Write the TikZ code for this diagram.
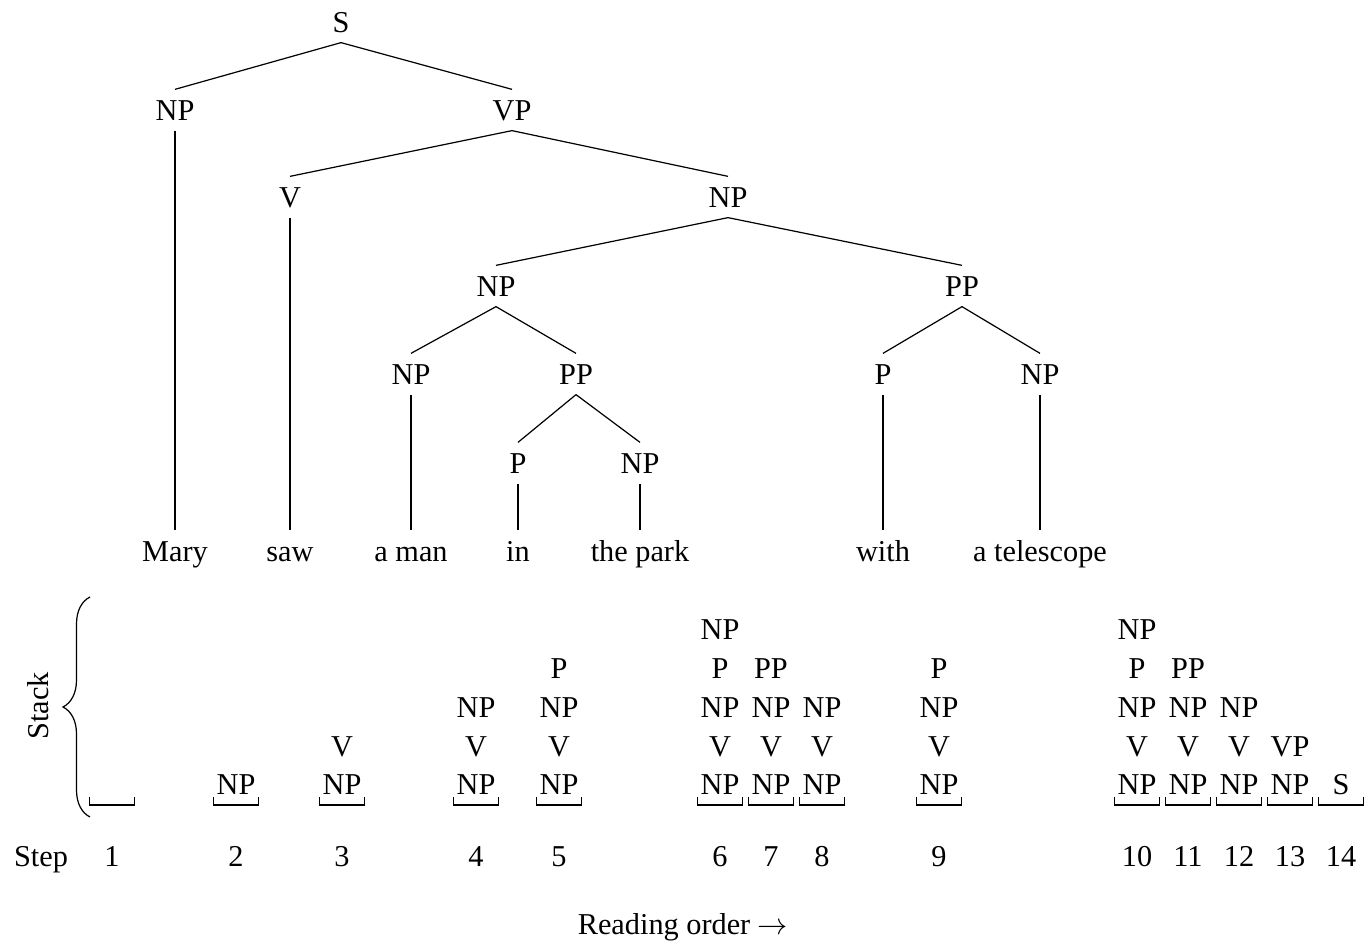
\documentclass[tikz,border=0pt]{standalone}
\usepackage{fontspec}
\setmainfont{Liberation Serif}
\usetikzlibrary{decorations.pathreplacing}
\begin{document}
\begin{tikzpicture}[x=0.33pt,y=-0.33pt,
  every node/.style={font=\fontsize{10}{12}\selectfont},
  tnode/.style={inner sep=3.3pt,text height=6.62pt,text depth=0pt},
  edge/.style={line width=0.4pt},
  slabel/.style={anchor=base,inner sep=0pt},
  bracket/.style={line width=0.4pt}]
\useasboundingbox (0,0) rectangle (1367,948);

% constituency tree
\node[tnode] (S)    at (341,22)  {S};
\node[tnode] (NP1)  at (175,110) {NP};
\node[tnode] (VP)   at (512,110) {VP};
\node[tnode] (V)    at (290,197) {V};
\node[tnode] (NP2)  at (728,197) {NP};
\node[tnode] (NP3)  at (496,286) {NP};
\node[tnode] (PP1)  at (962,286) {PP};
\node[tnode] (NP4)  at (411,374) {NP};
\node[tnode] (PP2)  at (576,374) {PP};
\node[tnode] (P1)   at (883,374) {P};
\node[tnode] (NP5)  at (1040,374) {NP};
\node[tnode] (P2)   at (518,463) {P};
\node[tnode] (NP6)  at (640,463) {NP};
% words
\node[tnode] (wMary) at (175,551)  {Mary};
\node[tnode] (wsaw)  at (290,551)  {saw};
\node[tnode] (wman)  at (411,551)  {a man};
\node[tnode] (win)   at (518,551)  {in};
\node[tnode] (wpark) at (640,551)  {the park};
\node[tnode] (wwith) at (883,551)  {with};
\node[tnode] (wtel)  at (1040,551) {a telescope};

\foreach \a/\b in {S/NP1,S/VP,VP/V,VP/NP2,NP2/NP3,NP2/PP1,NP3/NP4,NP3/PP2,
  PP2/P2,PP2/NP6,PP1/P1,PP1/NP5,NP1/wMary,V/wsaw,NP4/wman,P2/win,NP6/wpark,
  P1/wwith,NP5/wtel}
  \draw[edge] (\a.south) -- (\b.north);

% stack snapshots: column x / contents from bottom to top
\foreach \i/\x/\items in {1/112/{},2/236/{NP},3/342/{NP,V},4/476/{NP,V,NP},
  5/559/{NP,V,NP,P},6/720/{NP,V,NP,P,NP},7/771/{NP,V,NP,PP},8/822/{NP,V,NP},
  9/939/{NP,V,NP,P},10/1137/{NP,V,NP,P,NP},11/1188/{NP,V,NP,PP},
  12/1239/{NP,V,NP},13/1290/{NP,VP},14/1341/{S}}{
  \coordinate (col\i) at (\x,805);
  \draw[bracket] ([xshift=-22.5*0.33pt,yshift=8*0.33pt]col\i) -- ([xshift=-22.5*0.33pt]col\i)
    -- ([xshift=22.5*0.33pt]col\i) -- ([xshift=22.5*0.33pt,yshift=8*0.33pt]col\i);
  \foreach \s [count=\r] in \items {
    \pgfmathsetmacro{\yb}{795-38.75*(\r-1)}
    \node[slabel] (s\i r\r) at (\x,\yb) {\s};
  }
  \node[slabel] (step\i) at (\x,867) {\i};
}

% brace and labels
\coordinate (braceBot) at (90,817);
\coordinate (braceTop) at (90,597);
\draw[decorate,decoration={brace,amplitude=27*0.33pt}] (braceBot) -- (braceTop);
\node[rotate=90,inner sep=0pt] (stacklabel) at (38,706) {Stack};
\node[slabel] (steplabel) at (41,867) {Step};
\node[slabel] (reading) at (683,935) {Reading order $\rightarrow$};
\end{tikzpicture}
\end{document}
